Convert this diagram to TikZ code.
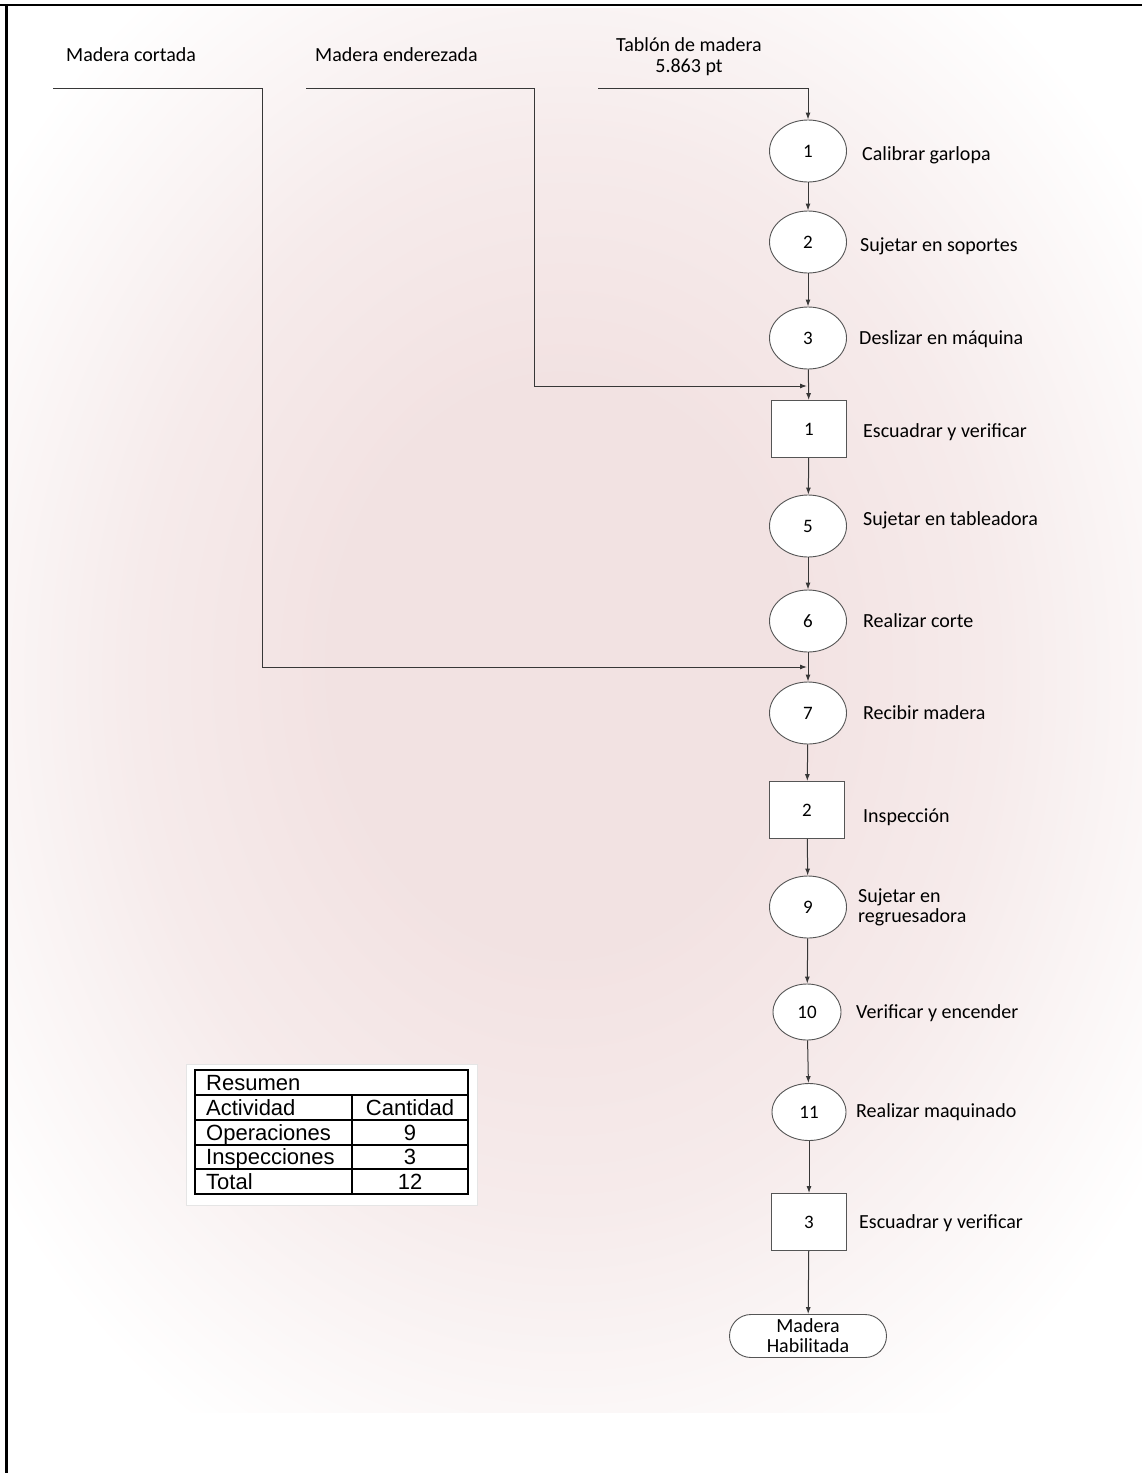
\documentclass[tikz,border=0pt]{standalone}
\usepackage{fontspec}
\setmainfont{Carlito}
\newfontfamily\tablefont{Liberation Sans}
\usetikzlibrary{arrows.meta,shapes.geometric,shapes.misc}

\definecolor{bgpink}{RGB}{242,226,226}
\definecolor{bgmid}{RGB}{246,235,235}
\definecolor{bgpale}{RGB}{251,247,247}
\definecolor{linegray}{RGB}{55,55,55}
\definecolor{shapegray}{RGB}{85,85,85}

% soft pink glow behind the chart
\pgfdeclareradialshading{bgglow}{\pgfpoint{-0.7bp}{2bp}}{%
  color(0bp)=(bgpink); color(10bp)=(bgpink); color(19bp)=(bgmid);
  color(26bp)=(bgpale); color(31bp)=(white); color(50bp)=(white)}

\begin{document}
\begin{tikzpicture}[x=1pt,y=-1pt,
  flow/.style={draw=linegray, line width=1pt, -{Latex[length=7pt,width=5pt]}},
  oper/.style={ellipse, draw=shapegray, fill=white, line width=0.9pt,
    minimum width=77pt, minimum height=62pt, inner sep=0pt,
    font=\fontsize{19}{19}\selectfont},
  insp/.style={rectangle, draw=shapegray, fill=white, line width=0.9pt,
    minimum width=75pt, minimum height=57pt, inner sep=0pt,
    font=\fontsize{19}{19}\selectfont},
  endbox/.style={rounded rectangle, draw=shapegray, fill=white, line width=0.9pt,
    minimum width=157pt, minimum height=43pt, inner sep=0pt, align=center,
    font=\fontsize{20}{20}\selectfont},
  lbl/.style={anchor=west, inner sep=0pt, text height=14pt, text depth=3pt,
    font=\fontsize{20}{20}\selectfont},
  lbltwo/.style={anchor=west, inner sep=0pt, align=left,
    font=\fontsize{20}{20}\selectfont},
  toplbl/.style={anchor=base west, inner sep=0pt, font=\fontsize{20}{20}\selectfont},
  tcell/.style={inner sep=0pt, font=\tablefont\fontsize{22}{22}\selectfont},
]
\useasboundingbox (0,0) rectangle (1142,1473);

% background glow and page frame
\shade[shading=bgglow] (8,8) rectangle (1142,1412);
\draw[line width=2.5pt] (0,5) -- (1142,5);
\draw[line width=3pt] (6,4) -- (6,1473);

% incoming materials
\node[toplbl] (mcort) at (66,61) {Madera cortada};
\node[toplbl] (mender) at (315,61) {Madera enderezada};
\node[inner sep=0pt, align=center, font=\fontsize{20}{21}\selectfont] (tablon) at (689,57) {Tablón de madera\\5.863 pt};

% process chain
\node[oper] (c1) at (808,151) {1};
\node[oper] (c2) at (808,242) {2};
\node[oper] (c3) at (808,338) {3};
\node[insp] (b1) at (809,429) {1};
\node[oper] (c5) at (808,526) {5};
\node[oper] (c6) at (808,621) {6};
\node[oper] (c7) at (808,713) {7};
\node[insp] (b2) at (807,810) {2};
\node[oper] (c9) at (808,907) {9};
\node[oper, minimum width=68pt, minimum height=56pt] (c10) at (807,1012) {10};
\node[oper, minimum width=74pt, minimum height=57pt] (c11) at (809,1112) {11};
\node[insp] (b3) at (809,1222) {3};
\node[endbox] (fin) at (808,1336) {Madera\\Habilitada};

% step descriptions
\node[lbl] (l1) at (862,155) {Calibrar garlopa};
\node[lbl] (l2) at (860,246) {Sujetar en soportes};
\node[lbl] (l3) at (859,339) {Deslizar en máquina};
\node[lbl] (l4) at (863,432) {Escuadrar y verificar};
\node[lbl] (l5) at (863,520) {Sujetar en tableadora};
\node[lbl] (l6) at (863,622) {Realizar corte};
\node[lbl] (l7) at (863,714) {Recibir madera};
\node[lbl] (l8) at (863,817) {Inspección};
\node[lbltwo] (l9) at (858,907) {Sujetar en\\regruesadora};
\node[lbl] (l10) at (856,1013) {Verificar y encender};
\node[lbl] (l11) at (856,1112) {Realizar maquinado};
\node[lbl] (l12) at (859,1223) {Escuadrar y verificar};

% feed lines
\coordinate (tA) at (598,88);
\coordinate (tB) at (808,88);
\coordinate (eA) at (306,88);
\coordinate (eB) at (534,88);
\coordinate (eC) at (534,386);
\coordinate (j1) at (807,386);
\coordinate (kA) at (53,88);
\coordinate (kB) at (262,88);
\coordinate (kC) at (262,667);
\coordinate (j2) at (807,667);

\draw[flow] (tA) -- (tB) -- (c1);
\draw[flow] (eA) -- (eB) -- (eC) -- (j1);
\draw[flow] (kA) -- (kB) -- (kC) -- (j2);

% connectors along the chain
\draw[flow] (c1) -- (c2);
\draw[flow] (c2) -- (c3);
\draw[flow] (c3) -- (b1);
\draw[flow] (b1) -- (c5);
\draw[flow] (c5) -- (c6);
\draw[flow] (c6) -- (c7);
\draw[flow] (c7) -- (b2);
\draw[flow] (b2) -- (c9);
\draw[flow] (c9) -- (c10);
\draw[flow] (c10) -- (c11);
\draw[flow] (c11) -- (b3);
\draw[flow] (b3) -- (fin);

% summary table
\fill[white] (186,1064) rectangle (477,1205);
\draw[gray!20, line width=0.6pt] (186,1064) rectangle (477,1205);
\draw[black, line width=1.3pt] (195,1070) rectangle (468,1194);
\draw[black, line width=1.3pt] (195,1095) -- (468,1095)
  (195,1120) -- (468,1120) (195,1145) -- (468,1145) (195,1169) -- (468,1169)
  (352,1095) -- (352,1194);
\node[tcell, anchor=base west] (tres) at (206,1090) {Resumen};
\node[tcell, anchor=base west] (tact) at (206,1115) {Actividad};
\node[tcell, anchor=base] (tcant) at (410,1115) {Cantidad};
\node[tcell, anchor=base west] (tops) at (206,1140) {Operaciones};
\node[tcell, anchor=base] (tnops) at (410,1140) {9};
\node[tcell, anchor=base west] (tins) at (206,1164.5) {Inspecciones};
\node[tcell, anchor=base] (tnins) at (410,1164.5) {3};
\node[tcell, anchor=base west] (ttot) at (206,1189) {Total};
\node[tcell, anchor=base] (tntot) at (410,1189) {12};
\end{tikzpicture}
\end{document}
